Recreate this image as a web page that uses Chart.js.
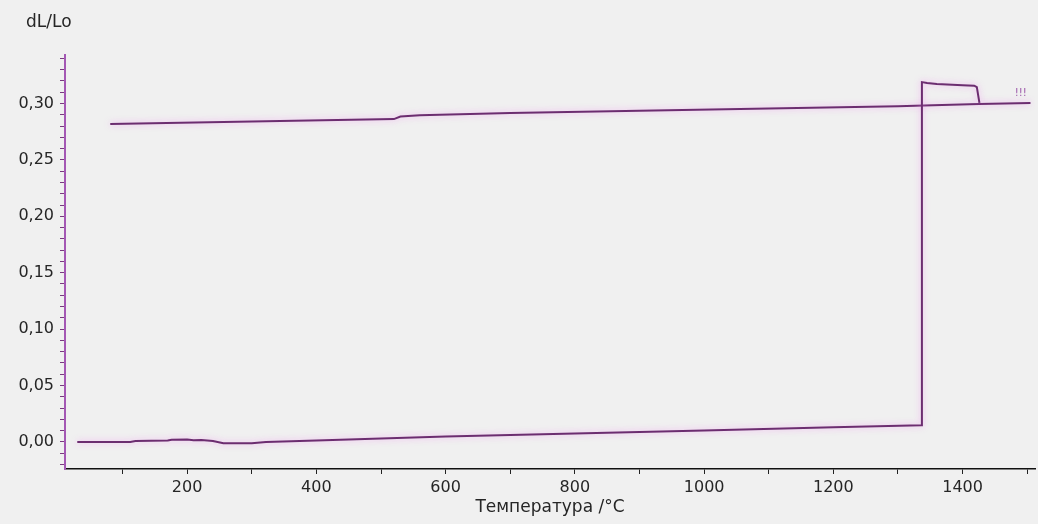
<!DOCTYPE html>
<html>
<head>
<meta charset="utf-8">
<script src="https://cdn.jsdelivr.net/npm/chart.js@4.4.0/dist/chart.umd.min.js"></script>
<style>
  html, body { margin: 0; padding: 0; background: #f0f0f0; }
  #wrap { width: 1038px; height: 524px; position: relative; }
</style>
</head>
<body>
<div id="wrap"><canvas id="c" width="1038" height="524"></canvas></div>
<script>
// Heating run: temperature (°C) and dL/Lo
const heatT = [30, 112, 120, 170, 176, 200, 210, 222, 240, 256, 300, 322, 400, 500, 600, 800, 1000, 1200, 1336,
               1337, 1345, 1360, 1400, 1418, 1422, 1426];
const heatV = [0.0000, 0.0000, 0.0008, 0.0012, 0.0020, 0.0022, 0.0015, 0.0018, 0.0008, -0.0012, -0.0012, 0.0000, 0.0012, 0.0030, 0.0047, 0.0075, 0.0102, 0.0130, 0.0148,
               0.3190, 0.3182, 0.3172, 0.3162, 0.3158, 0.3145, 0.3005];
// Second run
const coolT = [81, 300, 520, 530, 560, 700, 900, 1100, 1300, 1340, 1425, 1505];
const coolV = [0.2818, 0.2840, 0.2862, 0.2885, 0.2895, 0.2915, 0.2935, 0.2955, 0.2975, 0.2982, 0.2995, 0.3005];

const yTitle = 'dL/Lo';
const xTitle = 'Температура /°C';
const curveMark = '!!!';
const curveMarkAt = [1490, 0.309];

const xMin = 11, xMax = 1512, xMinorStep = 100, xMajorStep = 200;
const yMin = -0.024, yMax = 0.343, yMinorStep = 0.01, yMajorStep = 0.05;

const lineColor = '#6c2d70';
const textColor = '#262626';
const fontFam = '"DejaVu Sans", "Liberation Sans", Arial, sans-serif';

const toPts = (xs, ys) => xs.map((x, i) => ({x: x, y: ys[i]}));
const isMult = (v, s) => Math.abs(Math.round(v / s) * s - v) < 1e-6;
const stepTicks = (min, max, step) => {
  const out = [];
  for (let k = Math.ceil(min / step - 1e-9); k * step <= max + 1e-9; k++) {
    out.push({ value: +(k * step).toFixed(6) });
  }
  return out;
};

const bgPlugin = {
  id: 'bg',
  beforeDraw(chart) {
    const ctx = chart.ctx;
    ctx.save();
    ctx.fillStyle = '#f0f0f0';
    ctx.fillRect(0, 0, chart.width, chart.height);
    ctx.restore();
  },
  beforeDatasetsDraw(chart) {
    const ctx = chart.ctx;
    ctx.save();
    ctx.shadowColor = 'rgba(240, 140, 240, 0.7)';
    ctx.shadowBlur = 6;
  },
  afterDatasetsDraw(chart) {
    chart.ctx.restore();
  },
  afterDraw(chart) {
    const ctx = chart.ctx;
    ctx.save();
    ctx.fillStyle = textColor;
    ctx.font = '17px ' + fontFam;
    ctx.textAlign = 'left';
    ctx.textBaseline = 'middle';
    ctx.fillText(yTitle, 26, 23);
    const xs = chart.scales.x, ys = chart.scales.y;
    ctx.fillStyle = '#9a55a8';
    ctx.font = '10px ' + fontFam;
    ctx.textAlign = 'center';
    ctx.fillText(curveMark, xs.getPixelForValue(curveMarkAt[0]), ys.getPixelForValue(curveMarkAt[1]));
    ctx.restore();
  }
};

new Chart(document.getElementById('c'), {
  type: 'line',
  data: {
    datasets: [
      { data: toPts(heatT, heatV), borderColor: lineColor, borderWidth: 2, pointRadius: 0, tension: 0, fill: false },
      { data: toPts(coolT, coolV), borderColor: lineColor, borderWidth: 2, pointRadius: 0, tension: 0, fill: false }
    ]
  },
  options: {
    responsive: false,
    animation: false,
    layout: { padding: { top: 55, right: 3, left: 0, bottom: 0 } },
    plugins: { legend: { display: false }, tooltip: { enabled: false } },
    scales: {
      x: {
        type: 'linear',
        min: xMin, max: xMax,
        afterBuildTicks(scale) { scale.ticks = stepTicks(xMin, xMax, xMinorStep); },
        afterFit(scale) { scale.height = 55; },
        ticks: {
          autoSkip: false,
          maxRotation: 0,
          padding: 4,
          color: textColor,
          font: { family: fontFam, size: 16 },
          callback: (v) => isMult(v, xMajorStep) ? String(Math.round(v)) : ''
        },
        grid: { drawOnChartArea: false, drawTicks: true, tickLength: 5, tickColor: '#222222' },
        border: { display: true, color: '#111111', width: 1.5 },
        title: { display: true, text: xTitle, color: textColor, font: { family: fontFam, size: 17 }, padding: { top: 0, bottom: 6 } }
      },
      y: {
        type: 'linear',
        min: yMin, max: yMax,
        afterBuildTicks(scale) { scale.ticks = stepTicks(yMin, yMax, yMinorStep); },
        afterFit(scale) { scale.width = 65; },
        ticks: {
          autoSkip: false,
          padding: 6,
          color: textColor,
          font: { family: fontFam, size: 16 },
          callback: (v) => isMult(v, yMajorStep) ? v.toFixed(2).replace('.', ',') : ''
        },
        grid: { drawOnChartArea: false, drawTicks: true, tickLength: 5, tickColor: '#7a3a80' },
        border: { display: true, color: '#a458b4', width: 2 }
      }
    }
  },
  plugins: [bgPlugin]
});
</script>
</body>
</html>
